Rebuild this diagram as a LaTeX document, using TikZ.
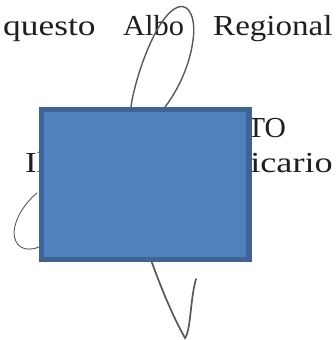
\documentclass[tikz,border=0pt]{standalone}
\usepackage{fontspec}
\setmainfont{Liberation Serif}
\begin{document}
\begin{tikzpicture}[x=1pt,y=-1pt,
  lab/.style={inner sep=0pt,anchor=base west,transform shape,font=\fontsize{29}{33}\selectfont,text=black!88},
  ink/.style={draw=black!65,line width=1.4pt,line cap=round},
  cover/.style={draw=boxedge,fill=boxfill,line width=5.3pt,line join=miter,outer sep=0pt}]
\definecolor{boxfill}{HTML}{4F81BD}
\definecolor{boxedge}{HTML}{3F6493}
\useasboundingbox (0,0) rectangle (336,340);
\fill[white] (0,0) rectangle (336,340);
\node[lab,xscale=1.22] (t1) at (3,35) {questo};
\node[lab,xscale=1.05] (t2) at (123,35) {Albo};
\node[lab,xscale=1.14] (t3) at (213,35) {Regional};
\node[lab,xscale=1.02] (t4) at (247,137) {TO};
\node[lab,xscale=1.2] (t5) at (25,172) {Il};
\node[lab,xscale=1.25] (t6) at (250,172) {icario};
\draw[ink] (131,107) .. controls (134,82) and (155,16) .. (178,7) .. controls (190,3) and (196,20) .. (193,40) .. controls (190,65) and (178,90) .. (165,107);
\draw[ink,line width=0.9pt] (37,193) .. controls (25,203) and (15,218) .. (14,232) .. controls (14,246) and (24,253) .. (39,247);
\draw[ink,line width=1.7pt] (151,260) .. controls (160,285) and (172,315) .. (185,338) .. controls (191,330) and (190,300) .. (196,279);
\node[cover,minimum width=207.7pt,minimum height=150.2pt,inner sep=0pt,anchor=north west] (box) at (41.4,109.3) {};
\end{tikzpicture}
\end{document}
